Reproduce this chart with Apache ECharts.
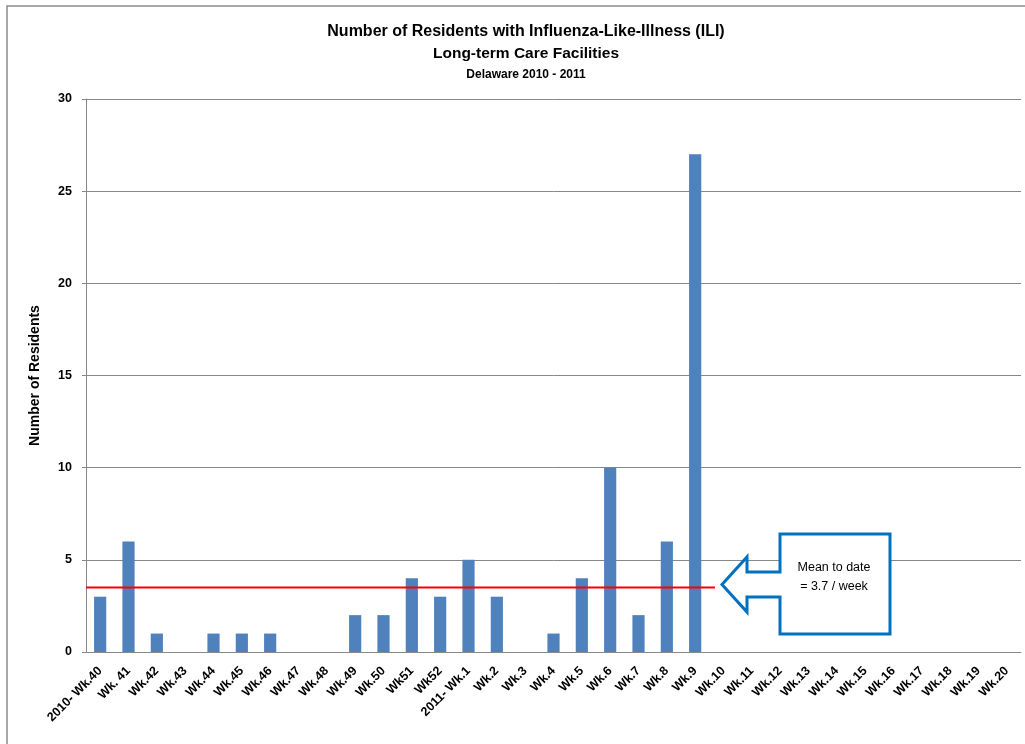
<!DOCTYPE html>
<html>
<head>
<meta charset="utf-8">
<script src="https://cdn.jsdelivr.net/npm/echarts@6/dist/echarts.min.js"></script>
<style>
html,body{margin:0;padding:0;background:#fff;}
#chart{width:1025px;height:744px;}
</style>
</head>
<body>
<div id="chart"></div>
<script>
const categories = ["2010- Wk.40","Wk. 41","Wk.42","Wk.43","Wk.44","Wk.45","Wk.46","Wk.47","Wk.48","Wk.49","Wk.50","Wk51","Wk52",
  "2011- Wk.1","Wk.2","Wk.3","Wk.4","Wk.5","Wk.6","Wk.7","Wk.8","Wk.9","Wk.10","Wk.11","Wk.12","Wk.13","Wk.14","Wk.15","Wk.16","Wk.17","Wk.18","Wk.19","Wk.20"];
const residents = [3,6,1,0,1,1,1,0,0,2,2,4,3,5,3,0,1,4,10,2,6,27,null,null,null,null,null,null,null,null,null,null,null];
const meanValue = 3.5;
const meanSpan = [0, 22.2];
const yTicks = [0,5,10,15,20,25,30];
const calloutText = "Mean to date\n= 3.7 / week";

const font = "'Liberation Sans', Arial, sans-serif";
const chart = echarts.init(document.getElementById('chart'));
chart.setOption({
  animation:false,
  backgroundColor:'#fff',
  title:[
    {text:'Number of Residents with Influenza-Like-Illness (ILI)', left:521, top:19, textAlign:'center',
     textStyle:{fontFamily:font,fontSize:16,fontWeight:'bold',color:'#000'}},
    {text:'Long-term Care Facilities', left:521, top:41, textAlign:'center',
     textStyle:{fontFamily:font,fontSize:15.5,fontWeight:'bold',color:'#000'}},
    {text:'Delaware 2010 - 2011', left:521, top:64, textAlign:'center',
     textStyle:{fontFamily:font,fontSize:12,fontWeight:'bold',color:'#000'}}
  ],
  grid:{left:86,right:4,top:99,bottom:92,containLabel:false},
  xAxis:[
    {type:'category',data:categories,boundaryGap:true,
     axisLine:{lineStyle:{color:'#888',width:1}},
     axisTick:{show:false},
     axisLabel:{rotate:45,interval:0,fontFamily:font,fontSize:12.5,fontWeight:'bold',color:'#000',margin:17}},
    {type:'value',min:0,max:categories.length,show:false,position:'bottom'}
  ],
  yAxis:{type:'value',min:yTicks[0],max:yTicks[yTicks.length-1],interval:5,
    name:'Number of Residents',nameLocation:'middle',nameGap:44,nameRotate:90,
    nameTextStyle:{fontFamily:font,fontSize:14,fontWeight:'bold',color:'#000'},
    axisLine:{show:true,lineStyle:{color:'#888'}},
    axisTick:{show:true,length:4,lineStyle:{color:'#888'}},
    axisLabel:{fontFamily:font,fontSize:12.5,fontWeight:'bold',color:'#000',margin:14},
    splitLine:{lineStyle:{color:'#888',width:1}}
  },
  series:[
    {type:'bar',data:residents,xAxisIndex:0,barWidth:'43%',itemStyle:{color:'#4F81BD'}},
    {type:'line',xAxisIndex:1,data:[[meanSpan[0],meanValue],[meanSpan[1],meanValue]],
     symbol:'none',lineStyle:{color:'#FF0000',width:2},z:5}
  ],
  graphic:[
    {type:'rect',shape:{x:7,y:6,width:1040,height:760},style:{fill:'none',stroke:'#8c8c8c',lineWidth:1.5},z:-1},
    {type:'polygon',shape:{points:[[722,584.5],[747,557],[747,572],[780,572],[780,534],[890,534],[890,634],[780,634],[780,597],[747,597],[747,612]]},
     style:{fill:'#fff',stroke:'#0070C0',lineWidth:3},z:10},
    {type:'text',x:834,y:577,style:{text:calloutText,fontFamily:font,fontSize:12.5,fill:'#000',align:'center',verticalAlign:'middle',lineHeight:19},z:11}
  ]
});
</script>
</body>
</html>
